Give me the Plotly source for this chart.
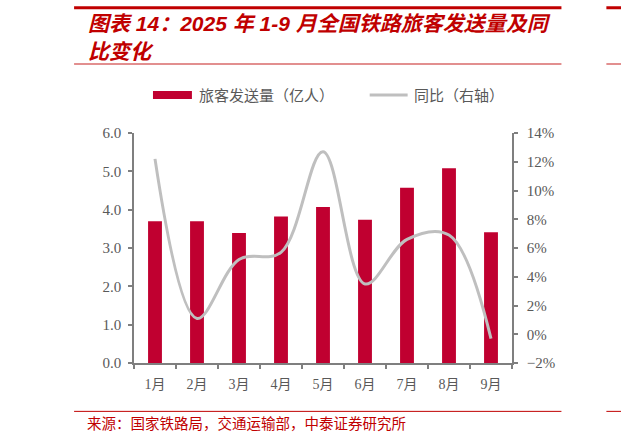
import plotly.graph_objects as go

months = ["1月", "2月", "3月", "4月", "5月", "6月", "7月", "8月", "9月"]
passengers = [3.70, 3.70, 3.39, 3.82, 4.07, 3.74, 4.57, 5.08, 3.41]  # 亿人
yoy = [12.2, 1.1, 5.2, 5.7, 12.7, 3.5, 6.6, 6.9, -0.3]  # %

W, H = 621, 439
L, R, T, B = 134, 512.5, 133, 362.7

def px(x):
    return (x - L) / (R - L)

def py(y):
    return (B - y) / (B - T)

RED = "#C00000"
BAR = "#C00030"
GRAY_TXT = "#595959"
AXIS = "#7F7F7F"
LINE = "#BFBFBF"
SERIF = "Liberation Serif, Noto Sans CJK SC"
CJK = "Noto Sans CJK SC"

fig = go.Figure()
fig.add_trace(go.Bar(x=months, y=passengers, name="旅客发送量（亿人）",
                     marker=dict(color=BAR, line=dict(width=0)), width=0.33,
                     yaxis="y", showlegend=False))
fig.add_trace(go.Scatter(x=months, y=yoy, name="同比（右轴）", mode="lines",
                         line=dict(color=LINE, width=3, shape="spline", smoothing=1.0),
                         yaxis="y2", showlegend=False))

fig.update_layout(
    width=W, height=H,
    margin=dict(l=L, r=W - R, t=T, b=H - B),
    paper_bgcolor="white", plot_bgcolor="white",
    font=dict(family=SERIF, color=GRAY_TXT, size=14),
    xaxis=dict(type="category", showline=True, linecolor=AXIS, linewidth=1.5,
               ticks="outside", ticklen=4, tickcolor=AXIS, tickwidth=1.5,
               tickson="boundaries", showgrid=False, zeroline=False,
               ticklabelstandoff=7,
               tickfont=dict(family=SERIF, size=14, color=GRAY_TXT)),
    yaxis=dict(range=[0, 6], dtick=1, tickformat=".1f", showline=True,
               linecolor=AXIS, linewidth=1.5, ticks="outside", ticklen=4,
               tickcolor=AXIS, tickwidth=1.5, showgrid=False, zeroline=False,
               ticklabelstandoff=4,
               tickfont=dict(family=SERIF, size=15, color=GRAY_TXT)),
    yaxis2=dict(range=[-2, 14], dtick=2, ticksuffix="%", overlaying="y",
                side="right", showline=True, linecolor=AXIS, linewidth=1.5,
                ticks="outside", ticklen=4, tickcolor=AXIS, tickwidth=1.5,
                showgrid=False, zeroline=False, ticklabelstandoff=6,
                tickfont=dict(family=SERIF, size=15, color=GRAY_TXT)),
    bargap=0.67,
)

shapes = []
# title rules
for x0, x1 in [(74, 562), (607, 640)]:
    shapes.append(dict(type="line", xref="paper", yref="paper", x0=px(x0), x1=px(x1),
                       y0=py(8), y1=py(8), line=dict(color=RED, width=3)))
    shapes.append(dict(type="line", xref="paper", yref="paper", x0=px(x0), x1=px(x1),
                       y0=py(64), y1=py(64), line=dict(color="#D86A6A", width=1.5)))
    shapes.append(dict(type="line", xref="paper", yref="paper", x0=px(x0), x1=px(x1),
                       y0=py(411), y1=py(411), line=dict(color=RED, width=1)))
# legend symbols
shapes.append(dict(type="rect", xref="paper", yref="paper", x0=px(153), x1=px(192),
                   y0=py(99), y1=py(91), fillcolor=BAR, line=dict(width=0)))
shapes.append(dict(type="line", xref="paper", yref="paper", x0=px(370), x1=px(408),
                   y0=py(95), y1=py(95), line=dict(color=LINE, width=3)))
fig.update_layout(shapes=shapes)

ann = []
ann.append(dict(xref="paper", yref="paper", x=px(86), y=py(24), xanchor="left", yanchor="middle",
                text="图表 14：2025 年 1-9 月全国铁路旅客发送量及同", showarrow=False,
                font=dict(family="Liberation Sans, " + CJK, size=21, color=RED,
                          weight="bold", style="italic")))
ann.append(dict(xref="paper", yref="paper", x=px(86), y=py(52), xanchor="left", yanchor="middle",
                text="比变化", showarrow=False,
                font=dict(family="Liberation Sans, " + CJK, size=21, color=RED,
                          weight="bold", style="italic")))
ann.append(dict(xref="paper", yref="paper", x=px(197), y=py(95), xanchor="left", yanchor="middle",
                text="旅客发送量（亿人）", showarrow=False,
                font=dict(family=CJK, size=15, color=GRAY_TXT)))
ann.append(dict(xref="paper", yref="paper", x=px(412), y=py(95), xanchor="left", yanchor="middle",
                text="同比（右轴）", showarrow=False,
                font=dict(family=CJK, size=15, color=GRAY_TXT)))
ann.append(dict(xref="paper", yref="paper", x=px(85), y=py(422), xanchor="left", yanchor="middle",
                text="来源：国家铁路局，交通运输部，中泰证券研究所", showarrow=False,
                font=dict(family=CJK, size=14.5, color=RED)))
fig.update_layout(annotations=ann)

fig.write_html("out.html", config={"displayModeBar": False},
               post_script="document.body.style.margin='0';document.body.style.overflow='hidden';")
